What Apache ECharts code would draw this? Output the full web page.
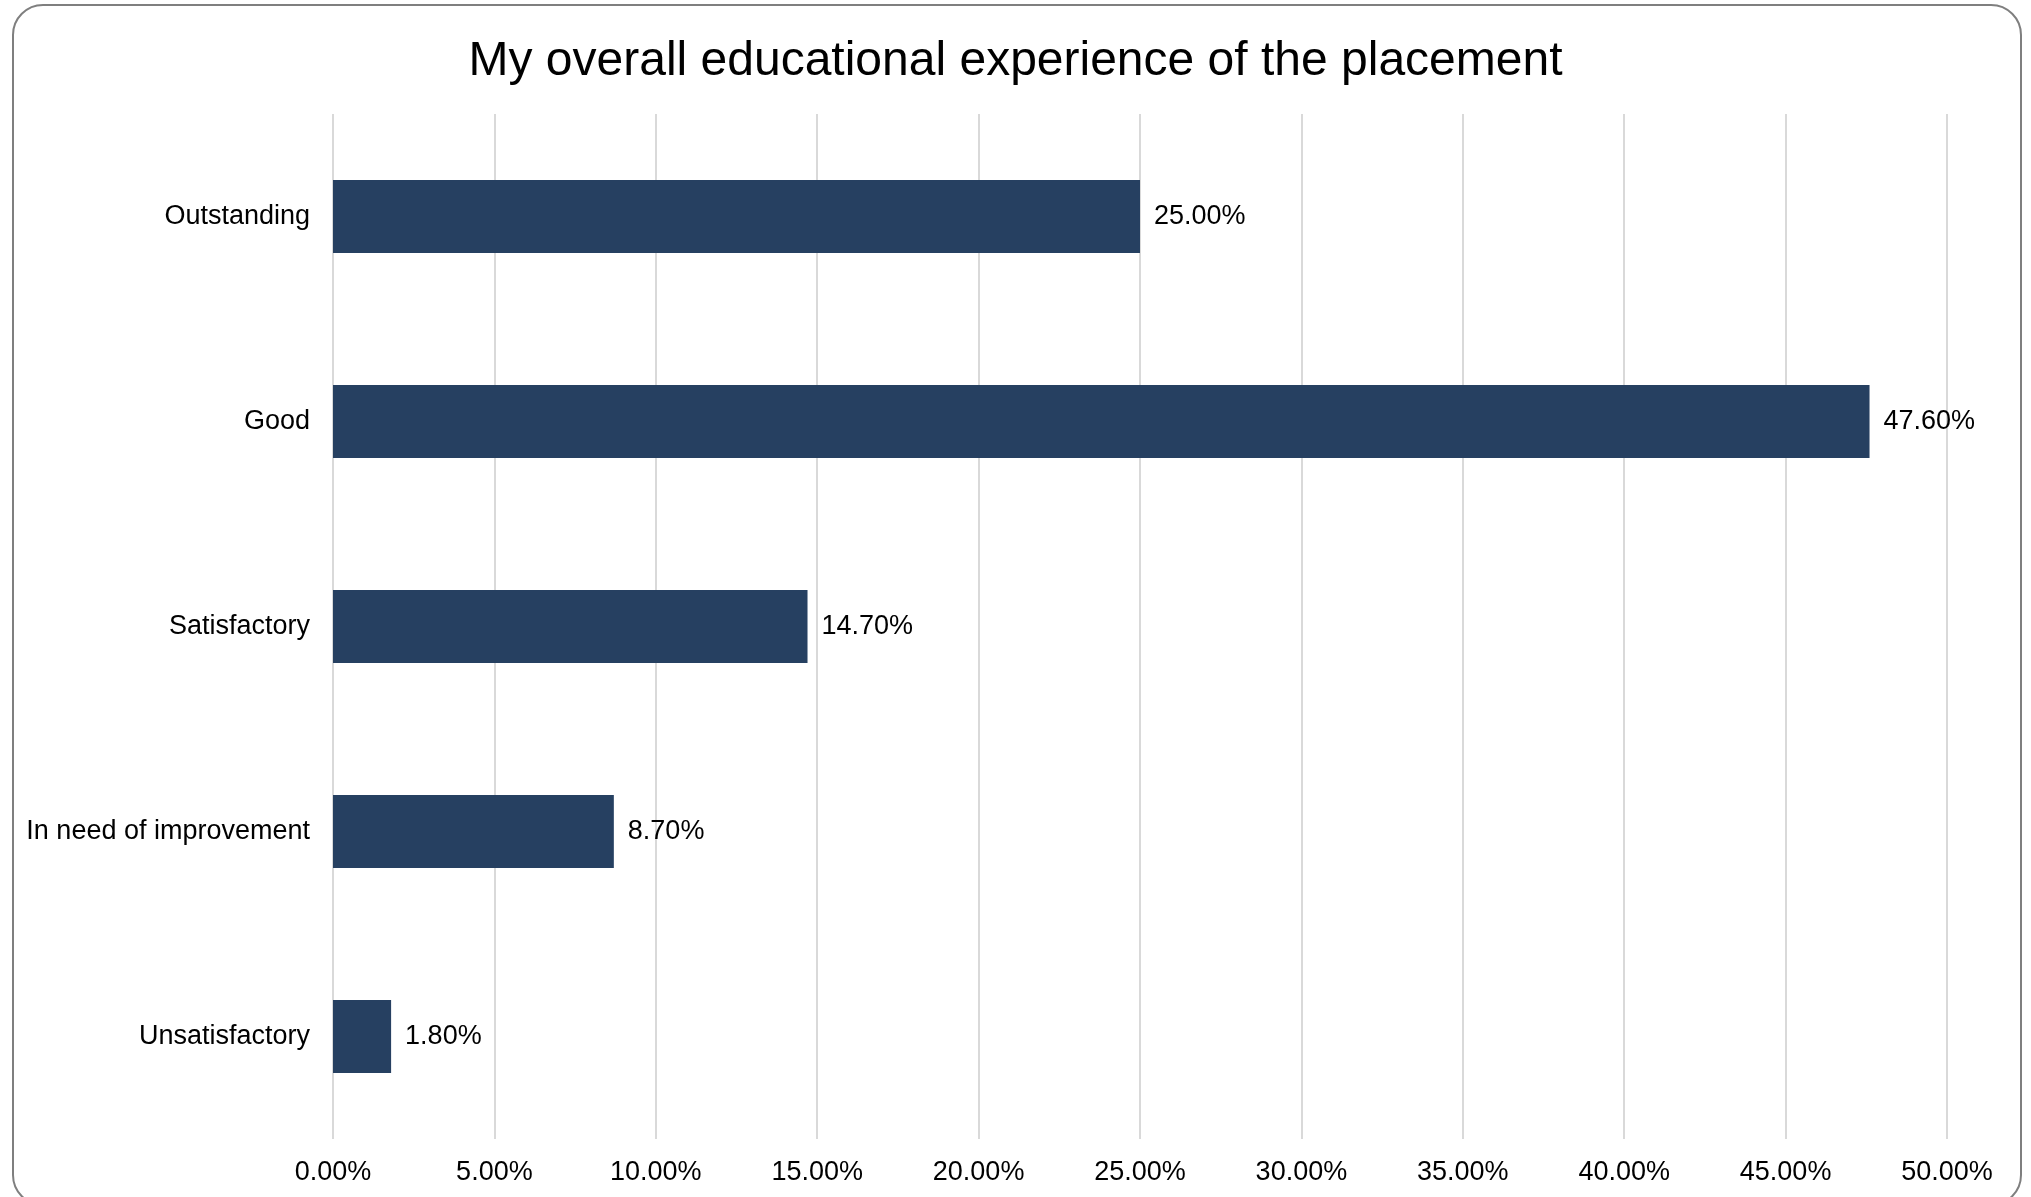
<!DOCTYPE html>
<html>
<head>
<meta charset="utf-8">
<script src="https://cdn.jsdelivr.net/npm/echarts@6/dist/echarts.min.js"></script>
<style>
html,body{margin:0;padding:0;background:#fff;}
#chart{width:2031px;height:1197px;}
</style>
</head>
<body>
<div id="chart"></div>
<script>
const titleText = 'My overall educational experience of the placement';
const categories = ['Outstanding', 'Good', 'Satisfactory', 'In need of improvement', 'Unsatisfactory'];
const values = [25.0, 47.6, 14.7, 8.7, 1.8];
const axisMin = 0, axisMax = 50, axisStep = 5;

const FONT = '"Liberation Sans", Arial, sans-serif';
const chart = echarts.init(document.getElementById('chart'), null, {renderer: 'canvas'});
chart.setOption({
  backgroundColor: '#ffffff',
  animation: false,
  graphic: [{
    type: 'rect',
    shape: {x: 13, y: 5, width: 2008, height: 1200, r: 30},
    style: {fill: 'none', stroke: '#7f7f7f', lineWidth: 2},
    silent: true,
    z: -1
  }],
  title: {
    text: titleText,
    left: 'center',
    top: 33,
    textStyle: {fontFamily: FONT, fontSize: 48, fontWeight: 'normal', color: '#000'}
  },
  grid: {left: 333, right: 84, top: 114, bottom: 58, containLabel: false},
  xAxis: {
    type: 'value',
    min: axisMin, max: axisMax, interval: axisStep,
    axisLine: {show: false},
    axisTick: {show: false},
    splitLine: {show: true, lineStyle: {color: '#d9d9d9', width: 2}},
    axisLabel: {
      fontFamily: FONT, fontSize: 27, color: '#000', margin: 20,
      formatter: v => v.toFixed(2) + '%'
    }
  },
  yAxis: {
    type: 'category',
    data: categories,
    inverse: true,
    axisLine: {show: false},
    axisTick: {show: false},
    axisLabel: {fontFamily: FONT, fontSize: 27, color: '#000', margin: 23}
  },
  series: [{
    type: 'bar',
    data: values,
    barWidth: '35.6%',
    itemStyle: {color: '#264061'},
    label: {
      show: true, position: 'right', distance: 14,
      fontFamily: FONT, fontSize: 27, color: '#000',
      formatter: p => p.value.toFixed(2) + '%'
    }
  }]
});
</script>
</body>
</html>
